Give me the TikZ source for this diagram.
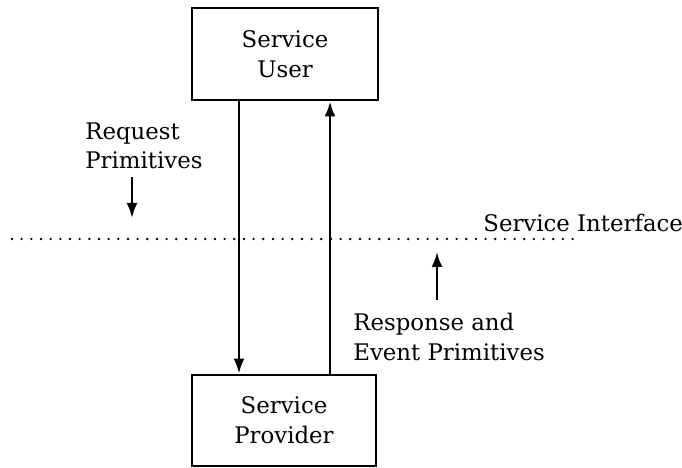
\documentclass[tikz,border=0pt]{standalone}
\usepackage{fontspec}
\setmainfont{DejaVu Serif}
\usetikzlibrary{arrows.meta}
\begin{document}
\begin{tikzpicture}[
        font=\fontsize{13}{17}\selectfont,
        box/.style={draw,line width=1.7pt,minimum width=3.72cm,minimum height=1.84cm,align=center},
        flow/.style={line width=1.4pt,-{Latex[length=3mm,width=2.2mm]}},
        lbl/.style={inner sep=0pt,align=left,anchor=north west}
    ]
        \useasboundingbox (0,0) rectangle (13.64,-9.36);
        \node[box] (user) at (5.7,-1.08) {Service\\User};
        \node[box,minimum width=3.68cm,minimum height=1.82cm] (prov) at (5.68,-8.41) {Service\\Provider};
        \draw[flow] ([xshift=-0.92cm]user.south) -- ([xshift=-0.92cm]user.south |- prov.north);
        \draw[flow] ([xshift=0.9cm]user.south |- prov.north) -- ([xshift=0.9cm]user.south);
        \coordinate (ifl) at (0.24,-4.78);
        \coordinate (ifr) at (11.6,-4.78);
        \draw[line width=1.5pt,line cap=round,dash pattern=on 0pt off 5.5pt] (ifl) -- (ifr);
        \node[anchor=base west,inner sep=0pt] (iface) at (9.66,-4.64) {Service Interface};
        \node[lbl] (req) at (1.7,-2.44) {Request\\Primitives};
        \coordinate (rqa) at (2.64,-3.54);
        \coordinate (rqb) at (2.64,-4.36);
        \draw[flow] (rqa) -- (rqb);
        \node[lbl] (resp) at (7.06,-6.26) {Response and\\Event Primitives};
        \coordinate (rsa) at (8.74,-6.0);
        \coordinate (rsb) at (8.74,-5.04);
        \draw[flow] (rsa) -- (rsb);
    \end{tikzpicture}
\end{document}
